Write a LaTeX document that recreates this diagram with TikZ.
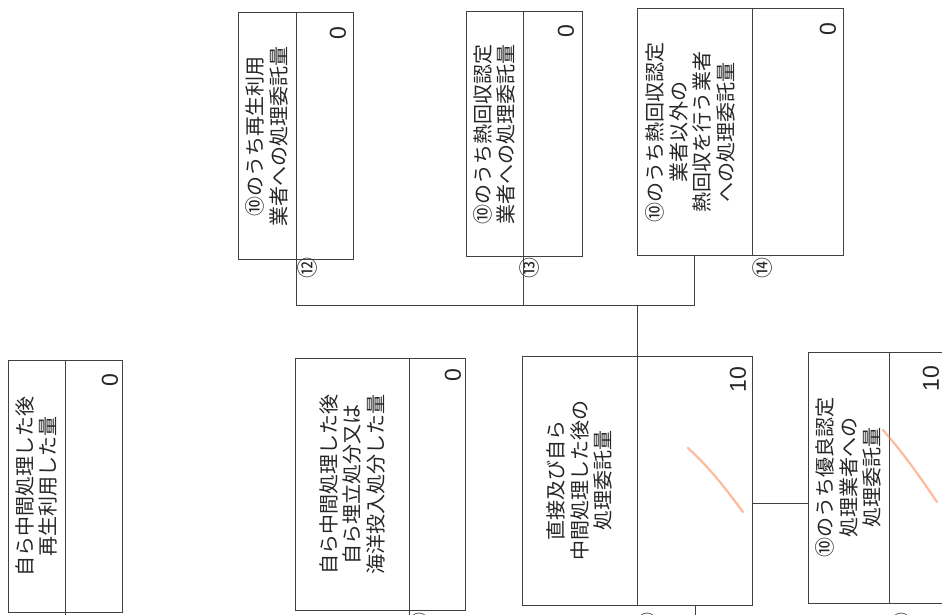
\documentclass[tikz,border=0pt]{standalone}
\usepackage{fontspec}
\newfontfamily\cjk{Noto Sans CJK JP}
\newfontfamily\numf{Liberation Sans}
\begin{document}
\begin{tikzpicture}[x=1pt,y=-1pt,
  part/.style={draw=black!75, line width=1pt, inner sep=0pt, outer sep=0pt, anchor=north west},
  lbl/.style={rotate=90, align=center, inner sep=0pt, text=black!85, font=\cjk\fontsize{20}{23.5}\selectfont},
  val/.style={rotate=90, anchor=east, inner sep=0pt, text=black!85, font=\numf\fontsize{23}{23}\selectfont},
  cnum/.style={rotate=90, inner sep=0pt, text=black!85, font=\cjk\fontsize{21}{21}\selectfont},
  wire/.style={draw=black!75, line width=1pt},
  pen/.style={draw=orange!60!red!70!white, line width=2.2pt, line cap=round, opacity=0.55}]
\useasboundingbox (0,0) rectangle (942,615);
% box A
\node[part, minimum width=57pt, minimum height=252pt] (aT) at (8,360) {};
\node[part, minimum width=57pt, minimum height=252pt] (aV) at (65,360) {};
\node[lbl] (aL) at (aT.center) {自ら中間処理した後\\再生利用した量};
\node[val] (aN) at (110,374) {0};
% box B
\node[part, minimum width=114pt, minimum height=252pt] (bT) at (295,358) {};
\node[part, minimum width=56pt, minimum height=252pt] (bV) at (409,358) {};
\node[lbl] (bL) at (bT.center) {自ら中間処理した後\\自ら埋立処分又は\\海洋投入処分した量};
\node[val] (bN) at (453,369) {0};
% box C
\node[part, minimum width=115pt, minimum height=249pt] (cT) at (522,356) {};
\node[part, minimum width=115pt, minimum height=249pt] (cV) at (637,356) {};
\node[lbl] (cL) at (cT.center) {直接及び自ら\\中間処理した後の\\処理委託量};
\node[val] (cN) at (738,367) {10};
% box D
\node[part, minimum width=81pt, minimum height=251pt] (dT) at (808,352) {};
\node[part, minimum width=70pt, minimum height=251pt] (dV) at (889,352) {};
\node[lbl] (dL) at (dT.center) {⑩のうち優良認定\\処理業者への\\処理委託量};
\node[val] (dN) at (931,366) {10};
% box 12
\node[part, minimum width=58pt, minimum height=246pt] (lT) at (238,13) {};
\node[part, minimum width=57pt, minimum height=246pt] (lV) at (296,13) {};
\node[lbl] (lL) at (lT.center) {⑩のうち再生利用\\業者への処理委託量};
\node[val] (lN) at (338,27) {0};
% box 13
\node[part, minimum width=57pt, minimum height=244pt] (mT) at (466,12) {};
\node[part, minimum width=59pt, minimum height=244pt] (mV) at (523,12) {};
\node[lbl] (mL) at (mT.center) {⑩のうち熱回収認定\\業者への処理委託量};
\node[val] (mN) at (566,25) {0};
% box 14
\node[part, minimum width=115pt, minimum height=246pt] (nT) at (637,9) {};
\node[part, minimum width=91pt, minimum height=246pt] (nV) at (752,9) {};
\node[lbl] (nL) at ([xshift=-4pt]nT.center) {⑩のうち熱回収認定\\業者以外の\\熱回収を行う業者\\への処理委託量};
\node[val] (nN) at (828,23) {0};
% circled numbers
\node[cnum] (c12) at (308,268) {⑫};
\node[cnum] (c13) at (530,268) {⑬};
\node[cnum] (c14) at (763,268) {⑭};
\node[cnum] (c9) at (420,623) {⑨};
\node[cnum] (c10) at (648,623) {⑩};
\node[cnum] (c11) at (902,623) {⑪};
% connectors
\coordinate (j12) at (296,305);
\coordinate (j13) at (523,305);
\coordinate (jC) at (637,305);
\coordinate (j14) at (694.5,305);
\draw[wire] (lV.south west) -- (j12) -- (j14) -- (nT.south);
\draw[wire] (mV.south west) -- (j13);
\draw[wire] (jC) -- (cV.north west);
\coordinate (cd) at (752,503);
\draw[wire] (cd) -- (dT.west |- cd);
\coordinate (aBot) at (65,620);
\coordinate (bBot) at (409,620);
\coordinate (cBot) at (695,620);
\draw[wire] (aV.south west) -- (aBot);
\draw[wire] (bV.south west) -- (bBot);
\draw[wire] (cV.south west -| cBot) -- (cBot);
% pen marks
\draw[pen] (688,448) .. controls (712,470) and (728,492) .. (743,512);
\draw[pen] (883,430) .. controls (905,455) and (922,480) .. (937,502);
\end{tikzpicture}
\end{document}
